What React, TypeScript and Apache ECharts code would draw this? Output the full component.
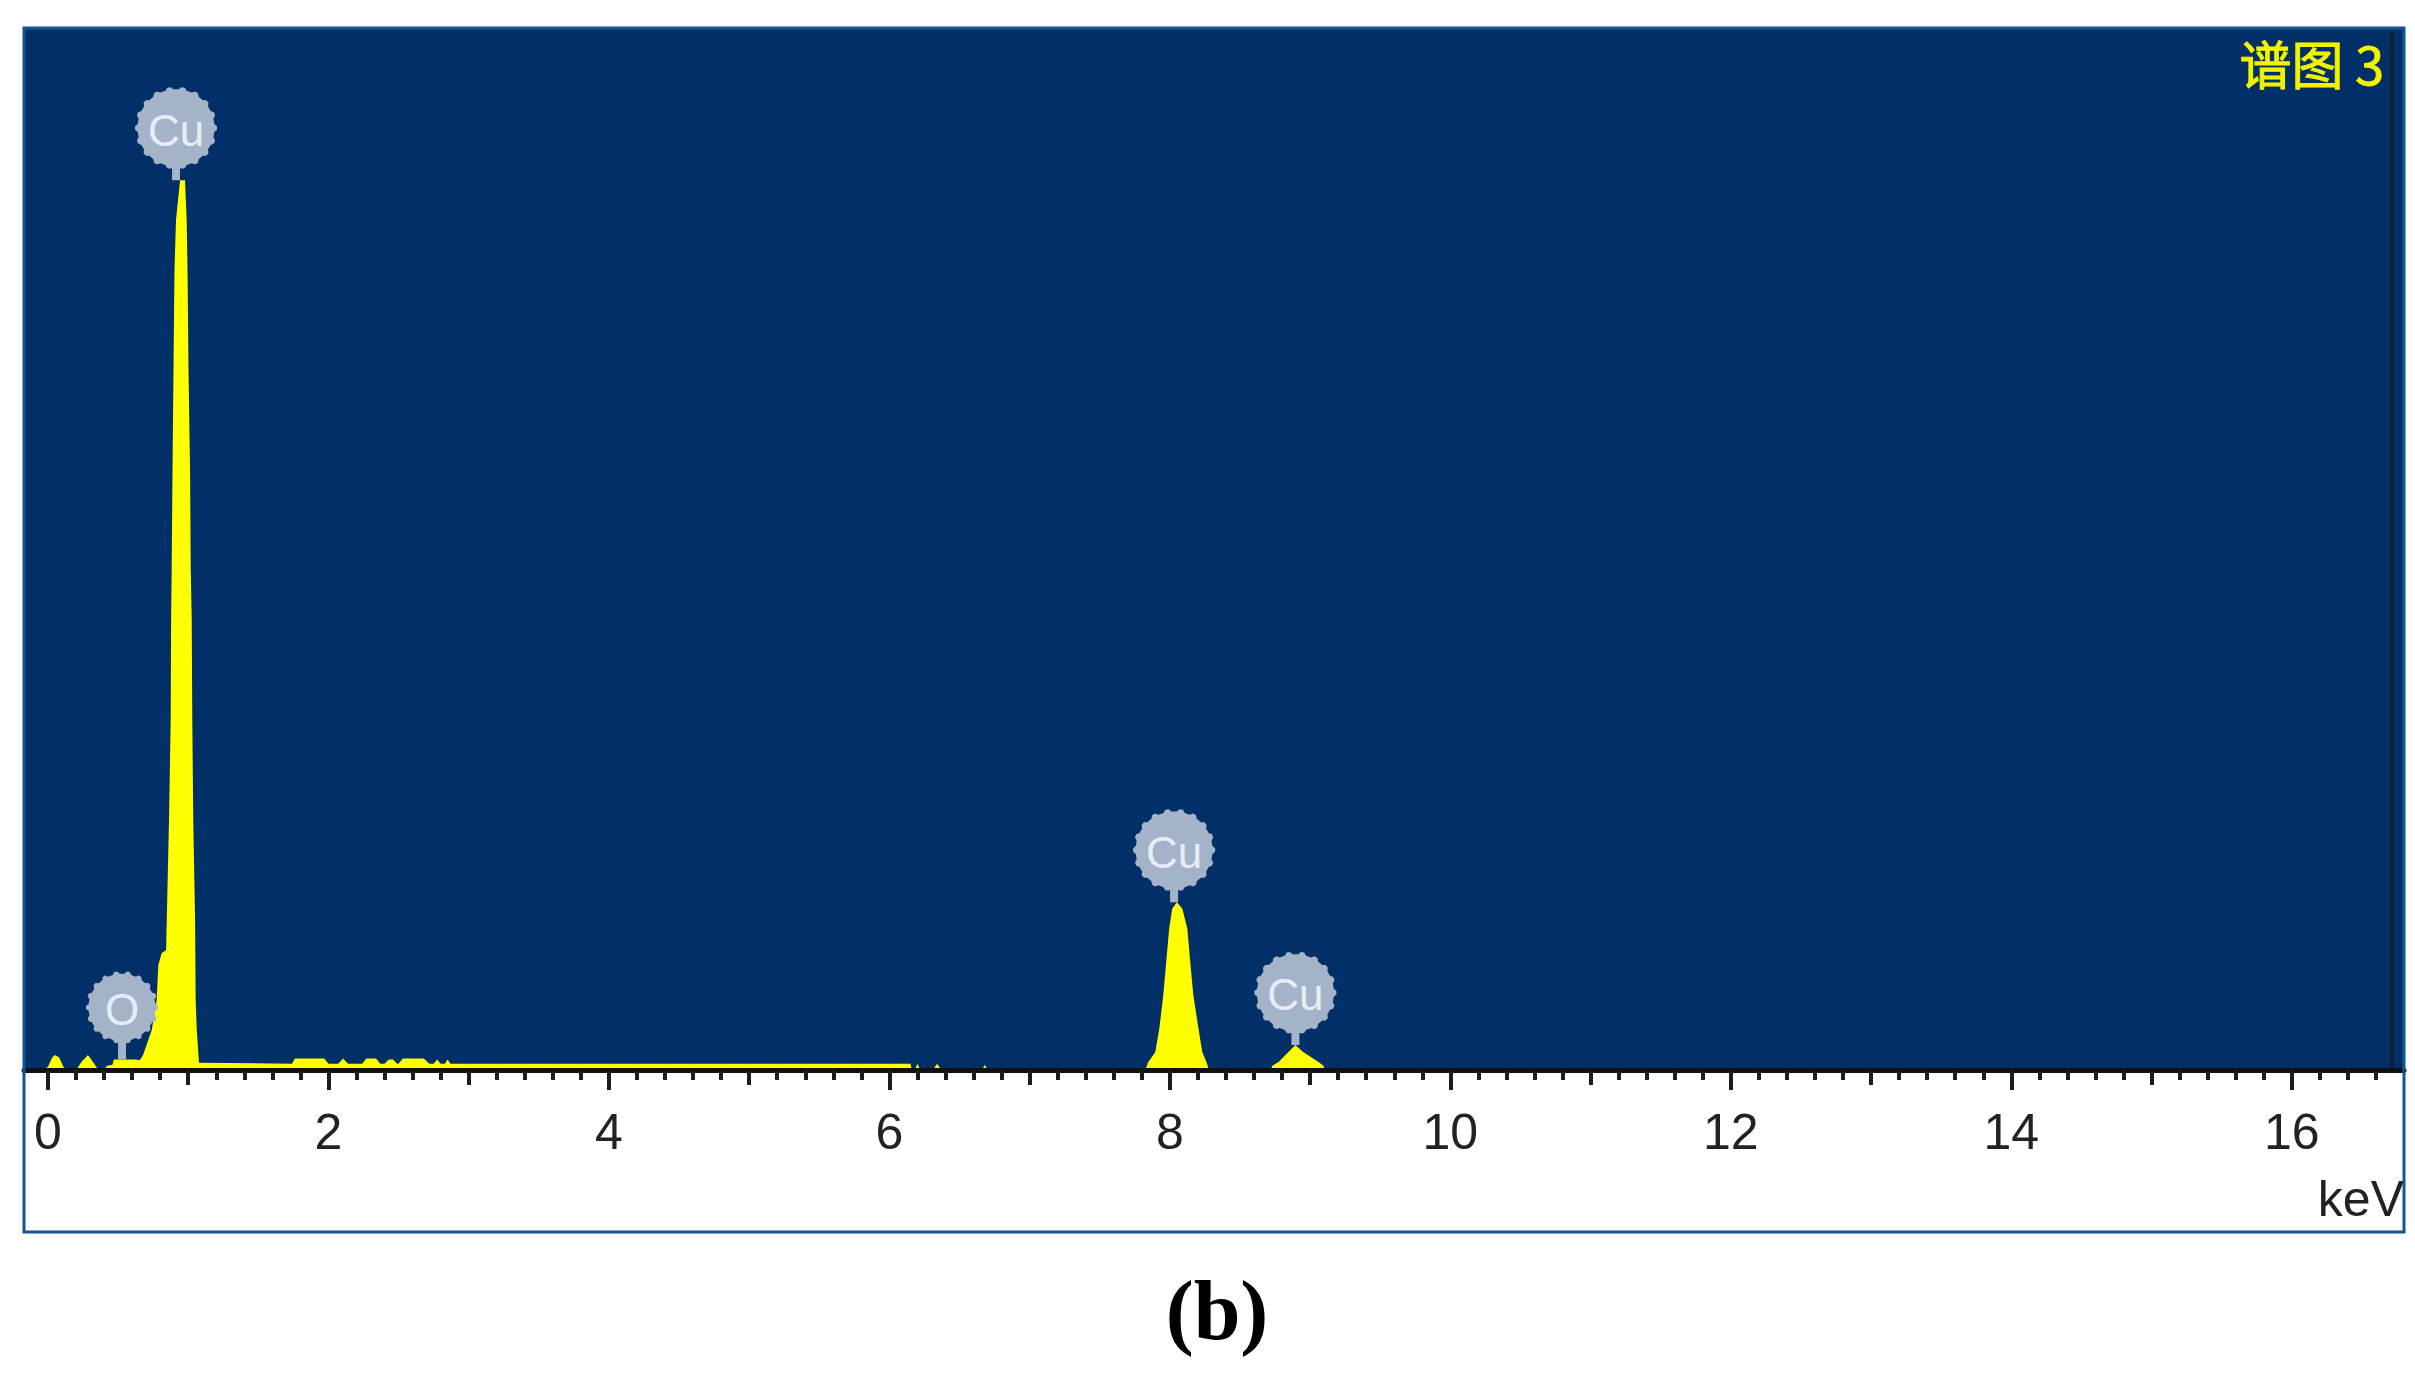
import React, { useEffect, useRef } from "react";
import * as echarts from "echarts";

const energies = [
  -0.04, 0.0, 0.03, 0.05, 0.08, 0.11, 0.13, 0.2, 0.24, 0.285, 0.32, 0.35, 0.37, 0.4, 0.42, 0.46, 0.47, 0.55, 0.62,
  0.656, 0.678, 0.74, 0.775, 0.787, 0.811, 0.842, 0.847, 0.863, 0.875, 0.878, 0.882, 0.888, 0.895, 0.902, 0.913, 0.942,
  0.977, 0.989, 0.995, 1.002, 1.013, 1.018, 1.025, 1.029, 1.036, 1.049, 1.053, 1.061, 1.077,
  1.74, 1.76, 1.97, 2.0, 2.07, 2.104, 2.14, 2.24, 2.27, 2.34, 2.37, 2.4, 2.43, 2.46, 2.49, 2.5, 2.53, 2.68, 2.72, 2.75, 2.775, 2.8, 2.83, 2.85, 2.87,
  6.15, 6.16, 6.18, 6.2, 6.22, 6.31, 6.34, 6.37, 6.66, 6.68, 6.7,
  7.82, 7.83, 7.846, 7.896, 7.925, 7.953, 7.974, 7.995, 8.017, 8.05, 8.088, 8.124, 8.145, 8.167, 8.203, 8.231, 8.26, 8.275, 8.285,
  8.72, 8.73, 8.775, 8.845, 8.895, 8.95, 9.06, 9.095, 9.105, 16.8,
];
const counts = [
  0, 0.3, 1.2, 1.45, 1.2, 0.3, 0, 0, 0.8, 1.45, 0.8, 0.2, 0, 0, 0.4, 0.5, 1.0, 1.0, 1.0,
  0.96, 1.44, 3.84, 6.72, 10.08, 11.23, 11.5, 14.4, 24, 33.6, 43.2, 48, 57.6, 67.2, 76.8, 81.6, 85.4,
  85.4, 81.6, 76.8, 67.2, 57.6, 48, 43.2, 33.6, 24, 14.4, 6.72, 3.84, 0.7,
  0.6, 1.1, 1.1, 0.6, 0.6, 1.1, 0.6, 0.6, 1.1, 1.1, 0.6, 0.6, 1.0, 1.0, 0.6, 0.6, 1.1, 1.1, 0.6, 0.6, 1.0, 0.6, 0.6, 1.0, 0.6,
  0.6, 0, 0, 0.6, 0, 0, 0.6, 0, 0, 0.5, 0,
  0, 0.2, 0.77, 1.73, 4.03, 7.2, 10.4, 13.6, 15.5, 16.1, 15.5, 13.6, 10.4, 7.2, 4.03, 1.73, 0.77, 0.2, 0,
  0, 0.4, 0.77, 1.73, 2.4, 1.73, 0.77, 0.4, 0, 0,
];

const peakNames = ["O", "Cu", "Cu", "Cu"];
const peakEnergies = [0.528, 0.913, 8.03, 8.895];
const peakCounts = [1.0, 85.4, 16.1, 2.4];

const majorTicks = [0, 2, 4, 6, 8, 10, 12, 14, 16];
const mediumTicks = [1, 3, 5, 7, 9, 11, 13, 15];
const minorTicks = [
  0.2, 0.4, 0.6, 0.8, 1.2, 1.4, 1.6, 1.8, 2.2, 2.4, 2.6, 2.8, 3.2, 3.4, 3.6, 3.8, 4.2, 4.4, 4.6, 4.8,
  5.2, 5.4, 5.6, 5.8, 6.2, 6.4, 6.6, 6.8, 7.2, 7.4, 7.6, 7.8, 8.2, 8.4, 8.6, 8.8, 9.2, 9.4, 9.6, 9.8,
  10.2, 10.4, 10.6, 10.8, 11.2, 11.4, 11.6, 11.8, 12.2, 12.4, 12.6, 12.8, 13.2, 13.4, 13.6, 13.8,
  14.2, 14.4, 14.6, 14.8, 15.2, 15.4, 15.6, 15.8, 16.2, 16.4, 16.6,
];

const NAVY = "#013068";
const YELLOW = "#ffff00";
const AXIS_MIN = -0.171;
const AXIS_MAX = 16.8;

// A round badge with small teeth and a stem; the stem's foot is the anchor.
function gearSymbol(radius: number, stem: number): string {
  const teeth = 18;
  const inner = radius - 2.5;
  const c = radius;
  const pts: string[] = [];
  const step = (Math.PI * 2) / teeth;
  for (let i = 0; i < teeth; i++) {
    const a = i * step;
    [[-0.3, inner], [-0.12, radius], [0.12, radius], [0.3, inner]].forEach(([o, r]) => {
      const t = a + o * step;
      pts.push(`${(c + r * Math.cos(t)).toFixed(2)} ${(c + r * Math.sin(t)).toFixed(2)}`);
    });
  }
  const h = 2 * radius + stem;
  return `path://M${pts.join(" L")} Z M${c - 4} ${2 * radius - 6} L${c + 4} ${2 * radius - 6} L${c + 4} ${h} L${c - 4} ${h} Z`;
}

function badgeItem(i: number) {
  const isOxygen = peakNames[i] === "O";
  const radius = isOxygen ? 36 : 41;
  const stem = isOxygen ? 16 : 11;
  const h = 2 * radius + stem;
  return {
    value: [peakEnergies[i], peakCounts[i]],
    name: peakNames[i],
    symbol: gearSymbol(radius, stem),
    symbolSize: [2 * radius, h],
    symbolOffset: [0, -h / 2],
    label: { offset: [0, -(stem / 2) + 2] },
  };
}

function tickAxis(values: number[], length: number, extra: object = {}) {
  return {
    type: "value",
    position: "bottom",
    min: AXIS_MIN,
    max: AXIS_MAX,
    z: 3,
    splitLine: { show: false },
    axisLine: { show: false, onZero: false },
    axisLabel: { show: false },
    axisTick: { show: true, length, customValues: values, lineStyle: { color: "#1c1c1c", width: 4 } },
    ...extra,
  };
}

export default function App() {
  const ref = useRef<HTMLDivElement>(null);
  useEffect(() => {
    const chart = echarts.init(ref.current!, null, { renderer: "svg" });
    chart.setOption({
      animation: false,
      backgroundColor: "#ffffff",
      title: {
        text: "谱图 3",
        right: 25,
        top: 31,
        textStyle: {
          color: "#f2f200",
          fontSize: 52,
          fontWeight: "normal",
          fontFamily: "Noto Sans CJK SC",
          textBorderColor: "#f2f200",
          textBorderWidth: 1,
        },
      },
      grid: { show: true, left: 24, top: 28, width: 2380, height: 1042, backgroundColor: NAVY, borderWidth: 0, containLabel: false },
      xAxis: [
        tickAxis(majorTicks, 20, {
          name: "keV",
          nameLocation: "end",
          nameGap: 0,
          nameTextStyle: {
            color: "#222222",
            fontSize: 50,
            fontFamily: "Liberation Sans",
            align: "right",
            verticalAlign: "top",
            padding: [104, 0, 0, 0],
          },
          axisLine: { show: true, onZero: false, lineStyle: { color: "#111111", width: 5 } },
          axisLabel: {
            show: true,
            customValues: majorTicks,
            margin: 37,
            color: "#222222",
            fontSize: 50,
            fontFamily: "Liberation Sans",
          },
        }),
        tickAxis(mediumTicks, 15),
        tickAxis(minorTicks, 10),
      ],
      yAxis: { type: "value", min: 0, max: 100, show: false },
      series: [
        {
          type: "line",
          name: "Spectrum",
          data: energies.map((e, i) => [e, counts[i]]),
          showSymbol: false,
          symbol: "none",
          lineStyle: { width: 0, color: YELLOW },
          itemStyle: { color: YELLOW },
          areaStyle: { color: YELLOW, opacity: 1 },
          z: 2,
        },
        {
          type: "scatter",
          name: "Peaks",
          data: peakEnergies.map((_, i) => badgeItem(i)),
          itemStyle: { color: "#a4b3c8", opacity: 1 },
          label: {
            show: true,
            position: "inside",
            formatter: (p: any) => p.name,
            color: "#e6edf5",
            fontSize: 44,
            fontFamily: "Liberation Sans",
          },
          z: 4,
        },
      ],
      graphic: [
        {
          type: "rect",
          z: 10,
          silent: true,
          shape: { x: 24, y: 28, width: 2380, height: 1204 },
          style: { fill: "none", stroke: "#14558f", lineWidth: 3 },
        },
        {
          type: "line",
          z: 9,
          silent: true,
          shape: { x1: 2392, y1: 32, x2: 2392, y2: 1068 },
          style: { stroke: "#0b2233", lineWidth: 4 },
        },
        {
          type: "text",
          x: 1217,
          y: 1310,
          style: {
            text: "(b)",
            fill: "#000000",
            fontSize: 84,
            fontWeight: "bold",
            fontFamily: "Liberation Serif",
            textAlign: "center",
            textVerticalAlign: "middle",
          },
        },
      ],
    });
    return () => chart.dispose();
  }, []);
  return (
    <div
      ref={ref}
      style={{ position: "absolute", left: 0, top: 0, width: 2415, height: 1373 }}
    />
  );
}
